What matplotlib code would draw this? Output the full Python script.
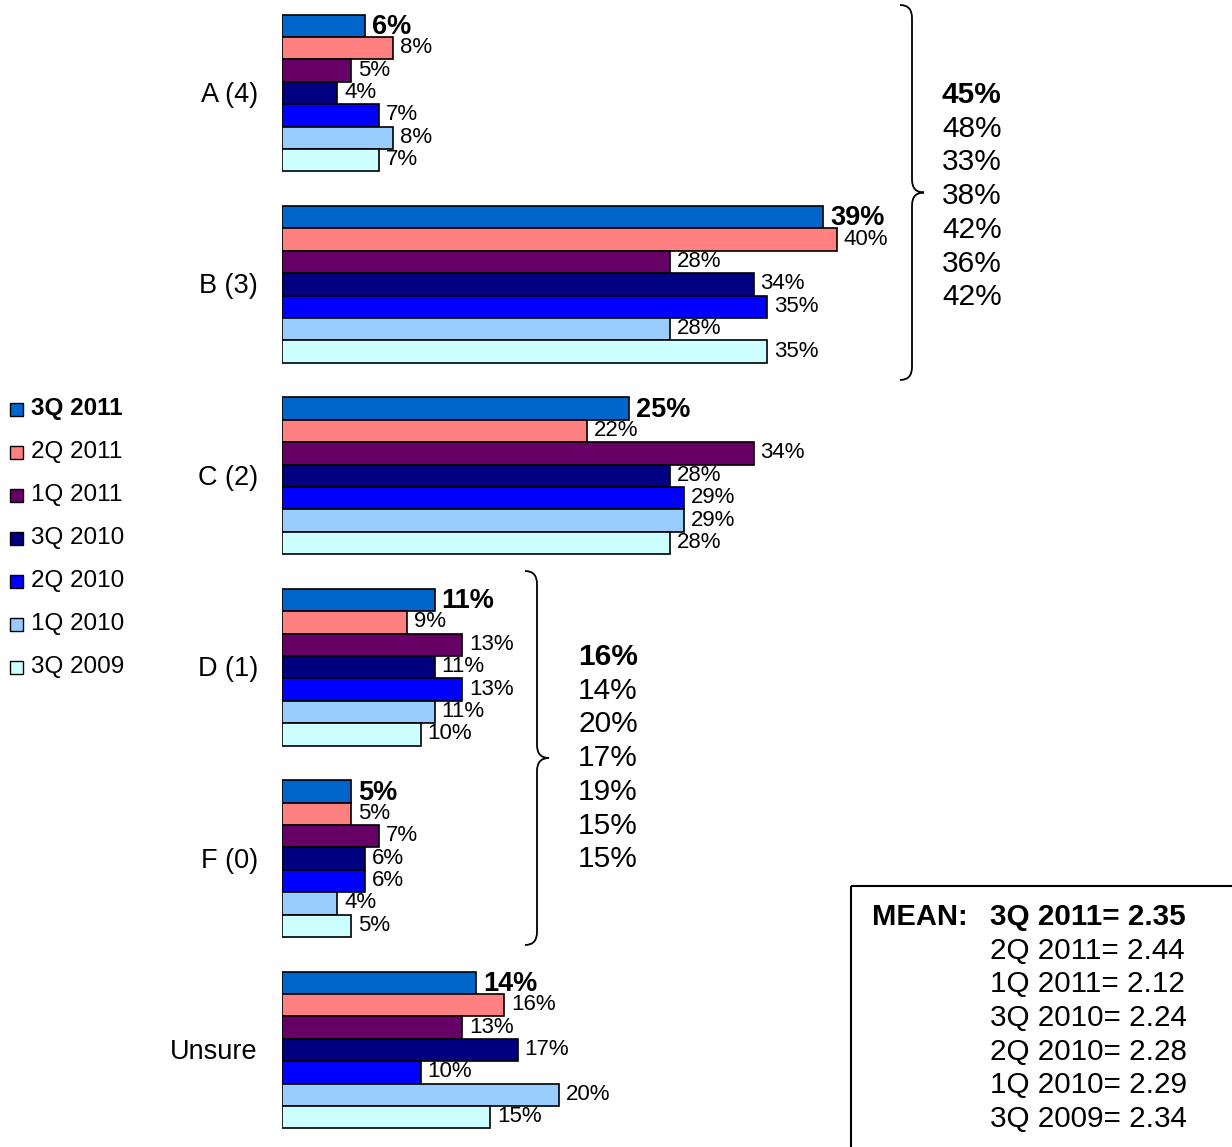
import numpy as np
import matplotlib
matplotlib.use("Agg")
import matplotlib.pyplot as plt
from matplotlib.path import Path
from matplotlib.patches import PathPatch, Rectangle

plt.rcParams['font.family'] = ['Liberation Sans', 'DejaVu Sans']

# data
categories = ['A (4)', 'B (3)', 'C (2)', 'D (1)', 'F (0)', 'Unsure']
series = ['3Q 2011', '2Q 2011', '1Q 2011', '3Q 2010', '2Q 2010', '1Q 2010', '3Q 2009']
colors = ['#0066CC', '#FF8080', '#660066', '#000080', '#0000FF', '#99CCFF', '#CCFFFF']
values = {
  '3Q 2011': [6, 39, 25, 11, 5, 14],
  '2Q 2011': [8, 40, 22, 9, 5, 16],
  '1Q 2011': [5, 28, 34, 13, 7, 13],
  '3Q 2010': [4, 34, 28, 11, 6, 17],
  '2Q 2010': [7, 35, 29, 13, 6, 10],
  '1Q 2010': [8, 28, 29, 11, 4, 20],
  '3Q 2009': [7, 35, 28, 10, 5, 15],
}
top_totals = ['45%', '48%', '33%', '38%', '42%', '36%', '42%']
bottom_totals = ['16%', '14%', '20%', '17%', '19%', '15%', '15%']
means = ['2.35', '2.44', '2.12', '2.24', '2.28', '2.29', '2.34']

W, H = 1232, 1147
fig = plt.figure(figsize=(W/100, H/100), dpi=100)

# main axes: x starts at pixel 282, 13.87 px per percent
px_per = 13.87
left = 282
xmax = (W - left) / px_per
spacing = 191.4
y0 = 93
ax = fig.add_axes([left/W, 0, 1 - left/W, 1])
ax.set_xlim(0, xmax)
ax.set_ylim(5 + (H - (y0 + 5*spacing))/spacing, -y0/spacing)
ax.axis('off')

n = len(series)
bh = 22.4 / spacing
yc = np.arange(len(categories))
for i, s in enumerate(series):
  ys = yc + (i - (n-1)/2) * bh
  ax.barh(ys, values[s], height=bh, color=colors[i], edgecolor='black', linewidth=1.2)
  for y, v in zip(ys, values[s]):
    if i == 0:
      ax.text(v + 0.5, y + 0.006, f'{v}%', va='center', ha='left', fontsize=19.5, fontweight='bold')
    else:
      ax.text(v + 0.5, y - 0.003, f'{v}%', va='center', ha='left', fontsize=16)

for y, c in zip(yc, categories):
  ax.text(-24/px_per, y + 0.01, c, ha='right', va='center', fontsize=19.5)

# overlay in pixel coordinates for brackets, legend, mean box
ov = fig.add_axes([0, 0, 1, 1])
ov.set_xlim(0, W)
ov.set_ylim(H, 0)
ov.axis('off')
ov.patch.set_alpha(0)

def brace(x0, xl, xt, ytop, ybot):
  ym = (ytop + ybot) / 2
  r = 13
  verts = [(x0, ytop), (xl, ytop), (xl, ytop + r),
           (xl, ym - r), (xl, ym), (xt, ym),
           (xl, ym), (xl, ym + r),
           (xl, ybot - r), (xl, ybot), (x0, ybot)]
  codes = [Path.MOVETO, Path.CURVE3, Path.CURVE3,
           Path.LINETO, Path.CURVE3, Path.CURVE3,
           Path.CURVE3, Path.CURVE3,
           Path.LINETO, Path.CURVE3, Path.CURVE3]
  ov.add_patch(PathPatch(Path(verts, codes), fill=False, lw=1.3, color='black'))

brace(900, 912, 924, 5, 380)
brace(525, 537, 549, 571, 945)

for k, t in enumerate(top_totals):
  ov.text(942, 95 + k*33.7, t, va='center', ha='left', fontsize=21.5,
          fontweight='bold' if k == 0 else 'normal')
for k, t in enumerate(bottom_totals):
  ov.text(578, 657 + k*33.7, t, va='center', ha='left', fontsize=21.5,
          fontweight='bold' if k == 0 else 'normal')

# legend
for k, (s, c) in enumerate(zip(series, colors)):
  yy = 409 + k*43
  ov.add_patch(Rectangle((10, yy - 6.5), 13, 13, facecolor=c, edgecolor='black', lw=1.0))
  ov.text(31, yy, s, va='center', ha='left', fontsize=17.5,
          fontweight='bold' if k == 0 else 'normal')

# mean box
ov.add_patch(Rectangle((851, 886), 420, 300, fill=False, edgecolor='black', lw=1.5))
ov.text(872, 917, 'MEAN:', va='center', ha='left', fontsize=21, fontweight='bold')
for k, (s, m) in enumerate(zip(series, means)):
  ov.text(990, 917 + k*33.7, f'{s}= {m}', va='center', ha='left', fontsize=21.3,
          fontweight='bold' if k == 0 else 'normal')

fig.savefig('out.png', dpi=100)
